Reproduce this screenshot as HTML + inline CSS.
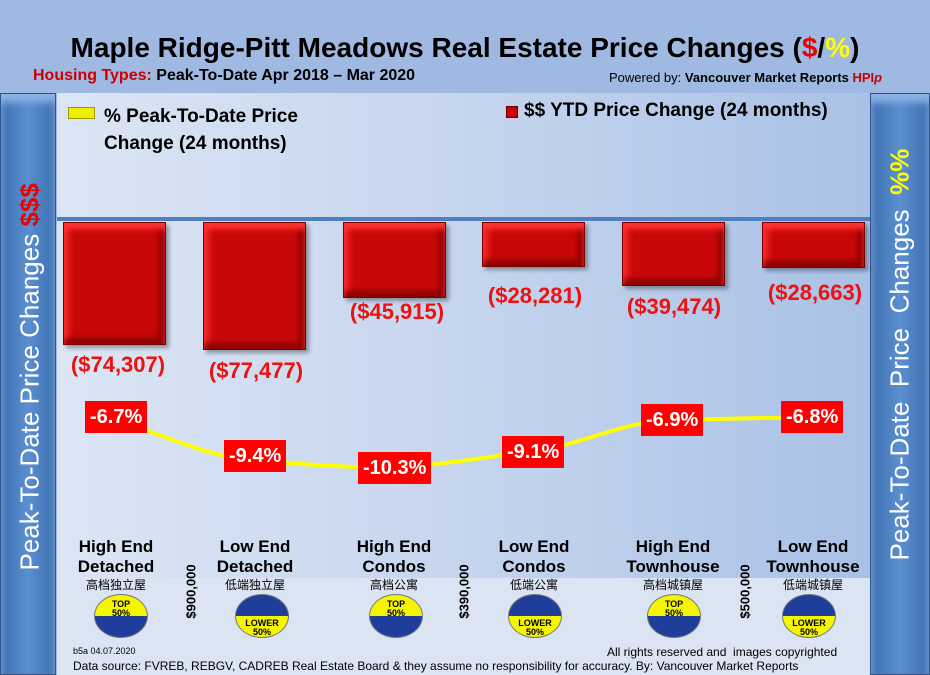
<!DOCTYPE html>
<html><head><meta charset="utf-8"><style>
*{margin:0;padding:0;box-sizing:border-box}
body{width:930px;height:675px;overflow:hidden;background:#9fb9e3;position:relative;font-family:"Liberation Sans","Noto Sans CJK SC",sans-serif}
.abs{position:absolute}
.side{position:absolute;top:93px;height:582px;background:linear-gradient(90deg,#3d6fb0,#5b8fd0 50%,#3d6fb0);border:1px solid #2c558c;box-shadow:inset 0 8px 8px #8fb4e6}
.vt{position:absolute;white-space:nowrap;color:#fff;font-size:26px;transform:rotate(-90deg);transform-origin:center}
.bar{position:absolute;top:222px;width:103px;background:#c80808;border:1px solid #7a0000;box-shadow:inset 0 6px 6px #f33,inset -6px -6px 6px #8a0000,inset 6px 0 6px #e22,3px 3px 4px rgba(0,0,0,.35)}
.dl{position:absolute;width:160px;text-align:center;color:#f01010;font-weight:bold;font-size:22px}
.pl{position:absolute;background:#f00;color:#fff;font-weight:bold;font-size:20px;padding:3px 5px;line-height:26px}
.cat{position:absolute;width:130px;text-align:center;font-weight:bold;font-size:17px;line-height:20px}
.cn{font-weight:normal;font-size:12px;line-height:16px}
.badge{position:absolute;width:54px;height:44px;border-radius:50%;overflow:hidden;border:1px solid #777;font-weight:bold;font-size:9px;text-align:center;line-height:9px}
.pr{position:absolute;font-weight:bold;font-size:13px;transform:rotate(-90deg);white-space:nowrap}
</style></head><body>
<div class="abs" style="left:0;top:32px;width:930px;text-align:center;font-weight:bold;font-size:28px">Maple Ridge-Pitt Meadows Real Estate Price Changes (<span style="color:#e00">$</span>/<span style="color:#ff0">%</span>)</div>
<div class="abs" style="left:33px;top:67px;font-size:16px;font-weight:bold"><span style="color:#c00">Housing Types:</span> Peak-To-Date Apr 2018 – Mar 2020</div>
<div class="abs" style="left:609px;top:70px;font-size:13px">Powered by: <b>Vancouver Market Reports <span style="color:#c00">HPI<i>p</i></span></b></div>
<div class="abs" style="left:57px;top:93px;width:813px;height:527px;background:linear-gradient(90deg,#dbe5f4,#c6d5ee 50%,#a9c1e6)"></div>
<div class="abs" style="left:57px;top:578px;width:813px;height:97px;background:#dbe4f3"></div>
<div class="side" style="left:0;width:56px"></div>
<div class="side" style="left:870px;width:60px"></div>
<div class="vt" style="left:-125px;top:400px;width:310px;text-align:center">Peak-To-Date Price Changes <span style="color:#e00;font-weight:bold">$$$</span></div>
<div class="vt" style="left:740px;top:385px;width:320px;text-align:center">Peak-To-Date &nbsp;Price &nbsp;Changes &nbsp;<span style="color:#ff0;font-weight:bold">%%</span></div>
<div class="abs" style="left:68px;top:107px;width:27px;height:12px;background:#ee0;border:1px solid #990"></div>
<div class="abs" style="left:104px;top:103px;font-size:19px;font-weight:bold;line-height:27px">% Peak-To-Date Price<br>Change (24 months)</div>
<div class="abs" style="left:506px;top:106px;width:12px;height:12px;background:#c00;border:1px solid #600"></div>
<div class="abs" style="left:524px;top:100px;font-size:19px;font-weight:bold">$$ YTD Price Change (24 months)</div>
<div class="abs" style="left:57px;top:217px;width:813px;height:4px;background:#4f7fbd"></div>
<div class="bar" style="left:63px;height:123px"></div>
<div class="bar" style="left:203px;height:128px"></div>
<div class="bar" style="left:343px;height:76px"></div>
<div class="bar" style="left:482px;height:45px"></div>
<div class="bar" style="left:622px;height:64px"></div>
<div class="bar" style="left:762px;height:46px"></div>
<div class="dl" style="left:38px;top:352px">($74,307)</div>
<div class="dl" style="left:176px;top:358px">($77,477)</div>
<div class="dl" style="left:317px;top:299px">($45,915)</div>
<div class="dl" style="left:455px;top:283px">($28,281)</div>
<div class="dl" style="left:594px;top:294px">($39,474)</div>
<div class="dl" style="left:735px;top:280px">($28,663)</div>
<svg class="abs" style="left:0;top:0" width="930" height="675"><path d="M115,420 C180,440 200,455 255,460 S350,468 393,467 S480,458 533,451 S620,422 672,420 L812,417" fill="none" stroke="#ff0" stroke-width="4"/></svg>
<div class="pl" style="left:85px;top:401px">-6.7%</div>
<div class="pl" style="left:224px;top:440px">-9.4%</div>
<div class="pl" style="left:358px;top:452px">-10.3%</div>
<div class="pl" style="left:502px;top:436px">-9.1%</div>
<div class="pl" style="left:641px;top:404px">-6.9%</div>
<div class="pl" style="left:781px;top:401px">-6.8%</div>
<div class="cat" style="left:51px;top:537px">High End<br>Detached<div class="cn">高档独立屋</div></div>
<div class="cat" style="left:190px;top:537px">Low End<br>Detached<div class="cn">低端独立屋</div></div>
<div class="cat" style="left:329px;top:537px">High End<br>Condos<div class="cn">高档公寓</div></div>
<div class="cat" style="left:469px;top:537px">Low End<br>Condos<div class="cn">低端公寓</div></div>
<div class="cat" style="left:608px;top:537px">High End<br>Townhouse<div class="cn">高档城镇屋</div></div>
<div class="cat" style="left:748px;top:537px">Low End<br>Townhouse<div class="cn">低端城镇屋</div></div>
<div class="pr" style="left:164px;top:584px">$900,000</div>
<div class="pr" style="left:437px;top:584px">$390,000</div>
<div class="pr" style="left:718px;top:584px">$500,000</div>
<div class="badge" style="left:94px;top:594px;background:linear-gradient(#f5f500 50%,#1f3d9a 50%)"><div style="padding-top:5px">TOP<br>50%</div></div>
<div class="badge" style="left:235px;top:594px;background:linear-gradient(#1f3d9a 50%,#f5f500 50%)"><div style="padding-top:24px">LOWER<br>50%</div></div>
<div class="badge" style="left:369px;top:594px;background:linear-gradient(#f5f500 50%,#1f3d9a 50%)"><div style="padding-top:5px">TOP<br>50%</div></div>
<div class="badge" style="left:508px;top:594px;background:linear-gradient(#1f3d9a 50%,#f5f500 50%)"><div style="padding-top:24px">LOWER<br>50%</div></div>
<div class="badge" style="left:647px;top:594px;background:linear-gradient(#f5f500 50%,#1f3d9a 50%)"><div style="padding-top:5px">TOP<br>50%</div></div>
<div class="badge" style="left:782px;top:594px;background:linear-gradient(#1f3d9a 50%,#f5f500 50%)"><div style="padding-top:24px">LOWER<br>50%</div></div>
<div class="abs" style="left:73px;top:646px;font-size:9px">b5a 04.07.2020</div>
<div class="abs" style="left:607px;top:645px;font-size:12px">All rights reserved and &nbsp;images copyrighted</div>
<div class="abs" style="left:73px;top:659px;font-size:12px">Data source: FVREB, REBGV, CADREB Real Estate Board &amp; they assume no responsibility for accuracy. By: Vancouver Market Reports</div>
</body></html>
